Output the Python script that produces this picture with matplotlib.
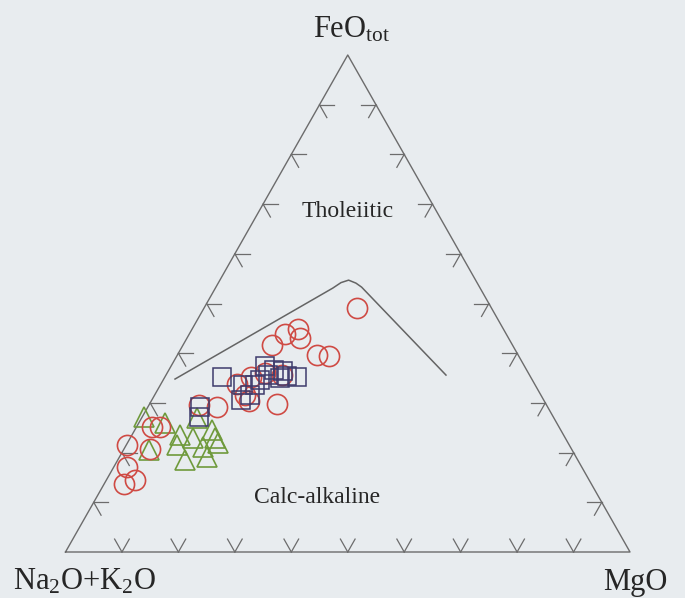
import matplotlib
matplotlib.use('Agg')
import matplotlib.pyplot as plt
import numpy as np

plt.rcParams['font.family'] = ['Liberation Serif', 'DejaVu Serif']
plt.rcParams['mathtext.fontset'] = 'custom'
plt.rcParams['mathtext.rm'] = 'Liberation Serif'
plt.rcParams['mathtext.it'] = 'Liberation Serif:italic'
plt.rcParams['mathtext.bf'] = 'Liberation Serif:bold'

# ---- data (wt% FeOtot, MgO; Na2O+K2O = 100 - F - M) ----
circle_F = [49.0, 43.9, 44.9, 43.0, 41.6, 39.6, 39.4, 36.0, 33.8, 35.2, 35.6,
            29.8, 30.4, 29.2, 29.6, 25.2, 25.2, 21.5, 20.7, 17.1, 14.5, 13.7, 31.6]
circle_M = [27.2, 17.0, 18.8, 20.0, 15.8, 24.8, 26.9, 17.3, 13.5, 15.3, 20.6,
            22.6, 17.3, 12.2, 8.8, 2.7, 4.1, 0.2, 4.6, 2.3, 5.1, 3.5, 16.0]

square_F = [35.2, 33.6, 33.6, 37.4, 35.6, 35.0, 36.4, 35.2, 31.6, 30.6, 29.2,
            27.2, 36.6, 35.4, 34.6]
square_M = [10.1, 14.6, 16.8, 16.6, 18.1, 20.5, 20.3, 23.4, 16.9, 15.8, 9.2,
            10.0, 18.6, 21.5, 17.2]

triangle_F = [27.2, 26.0, 20.5, 21.5, 18.5, 22.9, 27.0, 21.1, 24.5, 22.9, 19.1,
              21.9, 23.5]
triangle_M = [0.3, 4.6, 4.5, 9.0, 11.9, 11.1, 9.8, 13.8, 13.7, 15.0, 15.5,
              16.0, 8.5]

# Tholeiitic / calc-alkaline dividing line
boundary_F = [34.8, 53.1, 54.2, 54.7, 54.1, 53.3, 35.6]
boundary_M = [2.0, 20.8, 21.7, 22.8, 24.4, 25.8, 49.6]

tick_values = [10, 20, 30, 40, 50, 60, 70, 80, 90]


def tern(F, M):
    F = np.asarray(F, dtype=float)
    M = np.asarray(M, dtype=float)
    return (M + F / 2.0) / 100.0, F / 100.0


W, H = 685, 598
bg = '#e8ecef'
fig = plt.figure(figsize=(W / 100, H / 100), dpi=100, facecolor=bg)
ax = fig.add_axes([65.5 / W, (H - 552) / H, (630 - 65.5) / W, (552 - 55) / H])
ax.set_facecolor(bg)
ax.set_xlim(0, 1)
ax.set_ylim(0, 1)
ax.axis('off')

line_c = '#6c6c6c'
# outline
ox, oy = tern([0, 0, 100, 0], [0, 100, 0, 0])
ax.plot(ox, oy, color=line_c, lw=1.0, clip_on=False)

# ticks (short grid stubs)
t = 2.6
for v in tick_values:
    # base (F=0, M=v): stubs parallel to both slanted edges
    for (F2, M2) in [(t, v), (t, v - t)]:
        x, y = tern([0, F2], [v, M2])
        ax.plot(x, y, color=line_c, lw=0.9, clip_on=False)
    # left edge (M=0, F=v): horizontal and parallel to right edge
    for (F2, M2) in [(v, t), (v - t, t)]:
        x, y = tern([v, F2], [0, M2])
        ax.plot(x, y, color=line_c, lw=0.9, clip_on=False)
    # right edge (A=0, F=v, M=100-v): horizontal and parallel to left edge
    for (F2, M2) in [(v, 100 - v - t), (v - t, 100 - v)]:
        x, y = tern([v, F2], [100 - v, M2])
        ax.plot(x, y, color=line_c, lw=0.9, clip_on=False)

# boundary
bx, by = tern(boundary_F, boundary_M)
ax.plot(bx, by, color='#646464', lw=1.1, clip_on=False)

# data
x, y = tern(triangle_F, triangle_M)
ax.plot(x, y, linestyle='none', marker='^', ms=14.5, mfc='none', mec='#6f9a3c', mew=1.2, clip_on=False)
x, y = tern(circle_F, circle_M)
ax.plot(x, y, linestyle='none', marker='o', ms=14.5, mfc='none', mec='#cf4a44', mew=1.2, clip_on=False)
x, y = tern(square_F, square_M)
ax.plot(x, y, linestyle='none', marker='s', ms=13.2, mfc='none', mec='#3e3b6c', mew=1.1, clip_on=False)

tc = '#262626'
fig.text(352 / W, 1 - 37 / H, r'$\mathrm{FeO_{tot}}$', ha='center', va='baseline', fontsize=22, color=tc)
fig.text(13 / W, 1 - 590 / H, r'$\mathrm{Na_2O{+}K_2O}$', ha='left', va='baseline', fontsize=22, color=tc)
fig.text(668 / W, 1 - 590 / H, 'MgO', ha='right', va='baseline', fontsize=22, color=tc)
fig.text(348 / W, 1 - 217 / H, 'Tholeiitic', ha='center', va='baseline', fontsize=17, color=tc)
fig.text(317 / W, 1 - 503 / H, 'Calc-alkaline', ha='center', va='baseline', fontsize=17, color=tc)

fig.savefig('out.png', dpi=100, facecolor=bg)
